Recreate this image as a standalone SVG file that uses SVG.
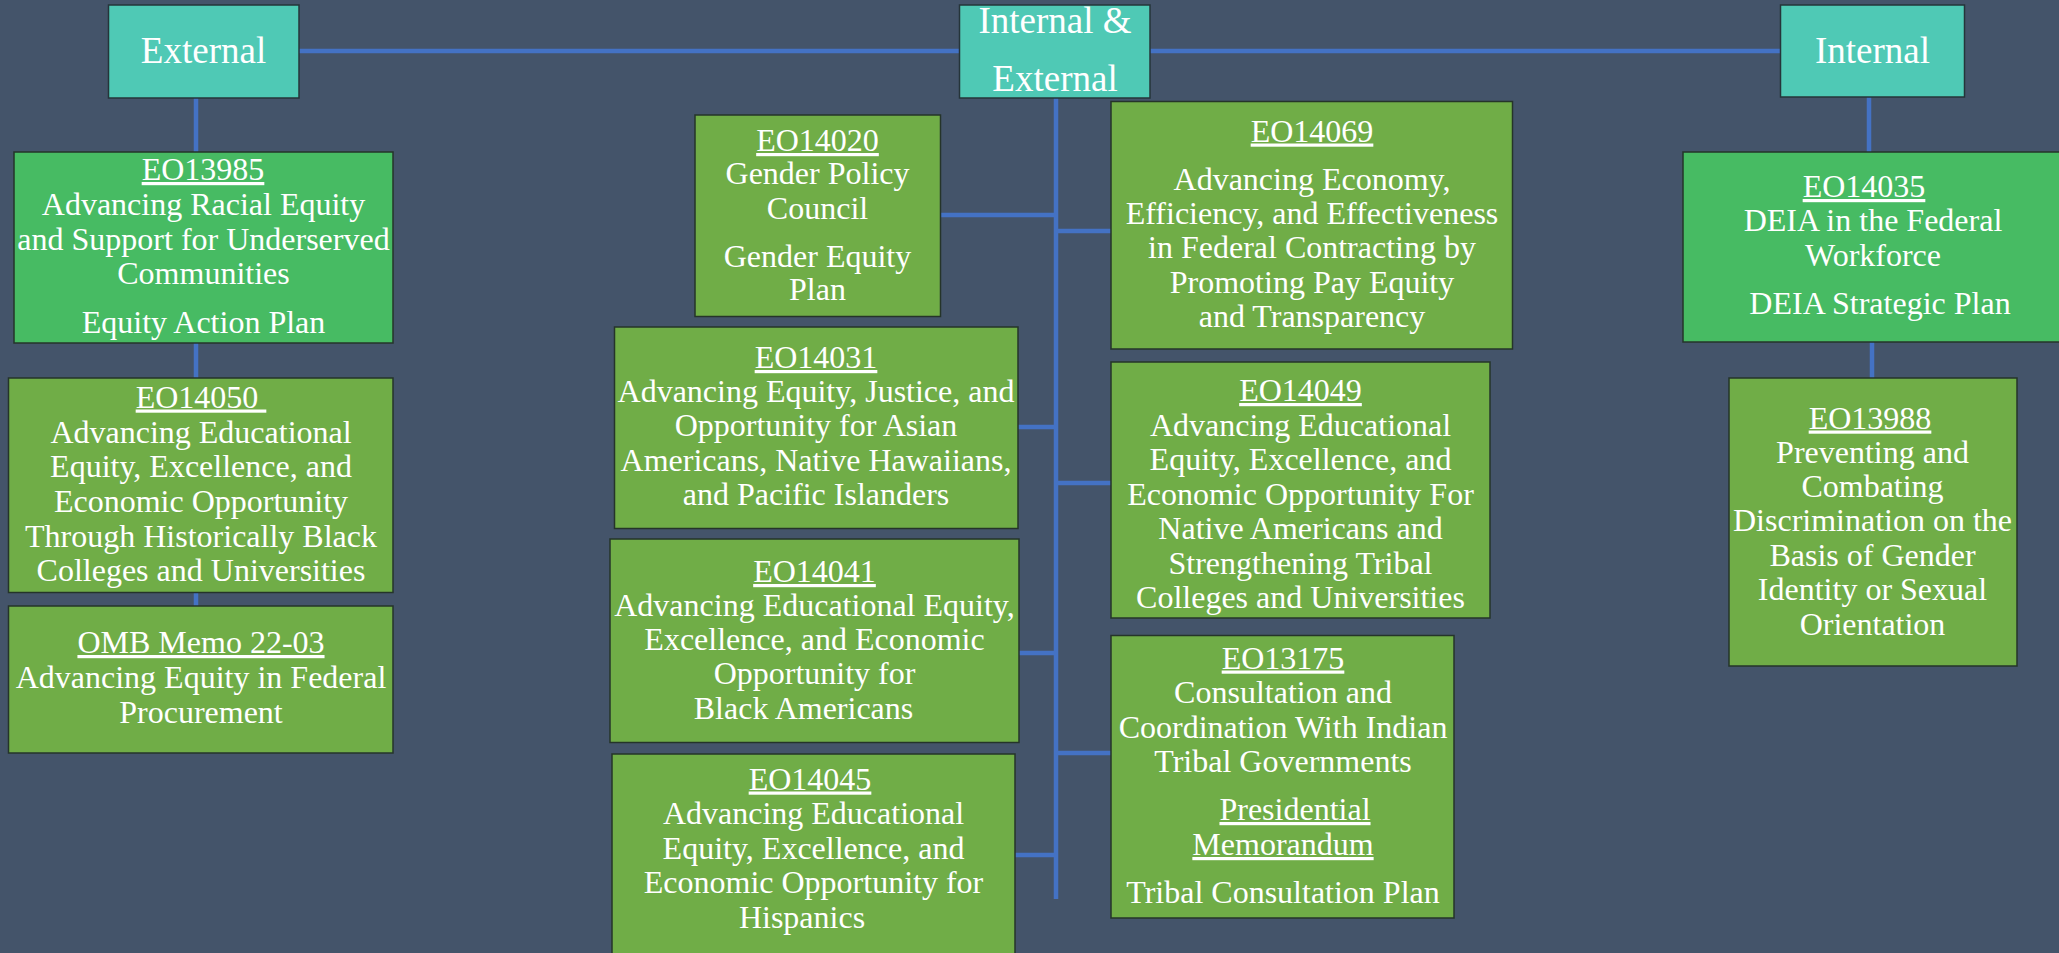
<svg xmlns="http://www.w3.org/2000/svg" width="2059" height="953" viewBox="0 0 2059 953">
<style>
.bg{fill:#44546A}
.teal{fill:#4FC9B5;stroke:#25343A;stroke-width:1.5}
.bright{fill:#47BB63;stroke:#25342A;stroke-width:1.5}
.olive{fill:#70AD47;stroke:#25342A;stroke-width:1.5}
.ln{stroke:#4472C4;stroke-width:4.5;fill:none}
text{font-family:"Liberation Serif","Times New Roman",serif;font-size:32px;fill:#FFFFFF;text-anchor:middle}
.h{font-size:37px}
.u{text-decoration:underline}
</style>
<rect class="bg" x="0" y="0" width="2059" height="953"/>
<g id="connectors">
<line class="ln" x1="299" y1="51" x2="960" y2="51"/>
<line class="ln" x1="1150" y1="51" x2="1781" y2="51"/>
<line class="ln" x1="196" y1="98" x2="196" y2="152"/>
<line class="ln" x1="196" y1="343" x2="196" y2="378"/>
<line class="ln" x1="196" y1="592" x2="196" y2="606"/>
<line class="ln" x1="1869" y1="97" x2="1869" y2="152"/>
<line class="ln" x1="1872" y1="342" x2="1872" y2="378"/>
<line class="ln" x1="1056" y1="98" x2="1056" y2="899"/>
<line class="ln" x1="940" y1="215" x2="1056" y2="215"/>
<line class="ln" x1="1056" y1="231" x2="1111" y2="231"/>
<line class="ln" x1="1018" y1="427" x2="1056" y2="427"/>
<line class="ln" x1="1056" y1="483" x2="1111" y2="483"/>
<line class="ln" x1="1019" y1="653" x2="1056" y2="653"/>
<line class="ln" x1="1056" y1="753" x2="1111" y2="753"/>
<line class="ln" x1="1015" y1="855" x2="1056" y2="855"/>
</g>
<g id="external">
<rect class="teal" x="108.5" y="5" width="190.5" height="93"/>
<text class="h" x="203.5" y="63">External</text>
</g>
<g id="internal-external">
<rect class="teal" x="959.5" y="5" width="190.5" height="93"/>
<text class="h" x="1055" y="33">Internal &amp;</text>
<text class="h" x="1055" y="91">External</text>
</g>
<g id="internal">
<rect class="teal" x="1780.5" y="5" width="184" height="92"/>
<text class="h" x="1872.5" y="63">Internal</text>
</g>
<g id="eo13985">
<rect class="bright" x="14" y="152" width="379" height="191"/>
<text class="u" x="203" y="180">EO13985</text>
<text x="203.5" y="215">Advancing Racial Equity</text>
<text x="203.5" y="249.5">and Support for Underserved</text>
<text x="203.5" y="284">Communities</text>
<text x="203.5" y="332.5">Equity Action Plan</text>
</g>
<g id="eo14050">
<rect class="olive" x="8.5" y="378" width="384.5" height="214.5"/>
<text class="u" x="201" y="407.5">EO14050&#160;</text>
<text x="201" y="442.5">Advancing Educational</text>
<text x="201" y="477">Equity, Excellence, and</text>
<text x="201" y="511.5">Economic Opportunity</text>
<text x="201" y="546.5">Through Historically Black</text>
<text x="201" y="581">Colleges and Universities</text>
</g>
<g id="omb2203">
<rect class="olive" x="8.5" y="606" width="384.5" height="147"/>
<text class="u" x="201" y="653">OMB Memo 22-03</text>
<text x="201" y="688">Advancing Equity in Federal</text>
<text x="201" y="723">Procurement</text>
</g>
<g id="eo14020">
<rect class="olive" x="695" y="115" width="245.5" height="201.5"/>
<text class="u" x="817.5" y="151">EO14020</text>
<text x="817.5" y="183.5">Gender Policy</text>
<text x="817.5" y="218.5">Council</text>
<text x="817.5" y="266.5">Gender Equity</text>
<text x="817.5" y="300">Plan</text>
</g>
<g id="eo14069">
<rect class="olive" x="1111" y="101.5" width="401.5" height="247.5"/>
<text class="u" x="1312" y="141.5">EO14069</text>
<text x="1312" y="189.5">Advancing Economy,</text>
<text x="1312" y="223.5">Efficiency, and Effectiveness</text>
<text x="1312" y="258">in Federal Contracting by</text>
<text x="1312" y="292.5">Promoting Pay Equity</text>
<text x="1312" y="327">and Transparency</text>
</g>
<g id="eo14031">
<rect class="olive" x="614.5" y="327" width="403.5" height="201.5"/>
<text class="u" x="816" y="368">EO14031</text>
<text x="816" y="402">Advancing Equity, Justice, and</text>
<text x="816" y="436">Opportunity for Asian</text>
<text x="816" y="470.5">Americans, Native Hawaiians,</text>
<text x="816" y="504.5">and Pacific Islanders</text>
</g>
<g id="eo14049">
<rect class="olive" x="1111" y="362" width="379" height="256"/>
<text class="u" x="1300.5" y="401">EO14049</text>
<text x="1300.5" y="435.5">Advancing Educational</text>
<text x="1300.5" y="470">Equity, Excellence, and</text>
<text x="1300.5" y="504.5">Economic Opportunity For</text>
<text x="1300.5" y="539">Native Americans and</text>
<text x="1300.5" y="573.5">Strengthening Tribal</text>
<text x="1300.5" y="607.5">Colleges and Universities</text>
</g>
<g id="eo14041">
<rect class="olive" x="610" y="539" width="409" height="203.5"/>
<text class="u" x="814.5" y="582">EO14041</text>
<text x="814.5" y="615.5">Advancing Educational Equity,</text>
<text x="814.5" y="650">Excellence, and Economic</text>
<text x="814.5" y="684">Opportunity for</text>
<text x="803.5" y="718.5">Black Americans</text>
</g>
<g id="eo14045">
<rect class="olive" x="612" y="754" width="403" height="210"/>
<text class="u" x="810" y="789.5">EO14045</text>
<text x="813.5" y="823.5">Advancing Educational</text>
<text x="813.5" y="858.5">Equity, Excellence, and</text>
<text x="813.5" y="893">Economic Opportunity for</text>
<text x="802" y="927.5">Hispanics</text>
</g>
<g id="eo13175">
<rect class="olive" x="1111" y="635.5" width="343" height="282.5"/>
<text class="u" x="1283" y="668.5">EO13175</text>
<text x="1283" y="703">Consultation and</text>
<text x="1283" y="737.5">Coordination With Indian</text>
<text x="1283" y="772">Tribal Governments</text>
<text class="u" x="1295" y="820">Presidential</text>
<text class="u" x="1283" y="855">Memorandum</text>
<text x="1283" y="903">Tribal Consultation Plan</text>
</g>
<g id="eo14035">
<rect class="bright" x="1683" y="152" width="380" height="190"/>
<text class="u" x="1864" y="197">EO14035</text>
<text x="1873" y="231">DEIA in the Federal</text>
<text x="1873" y="266">Workforce</text>
<text x="1880" y="314">DEIA Strategic Plan</text>
</g>
<g id="eo13988">
<rect class="olive" x="1729" y="378" width="288" height="288"/>
<text class="u" x="1870" y="428.5">EO13988</text>
<text x="1872.5" y="463">Preventing and</text>
<text x="1872.5" y="497">Combating</text>
<text x="1872.5" y="531">Discrimination on the</text>
<text x="1872.5" y="566">Basis of Gender</text>
<text x="1872.5" y="600">Identity or Sexual</text>
<text x="1872.5" y="635">Orientation</text>
</g>
</svg>
